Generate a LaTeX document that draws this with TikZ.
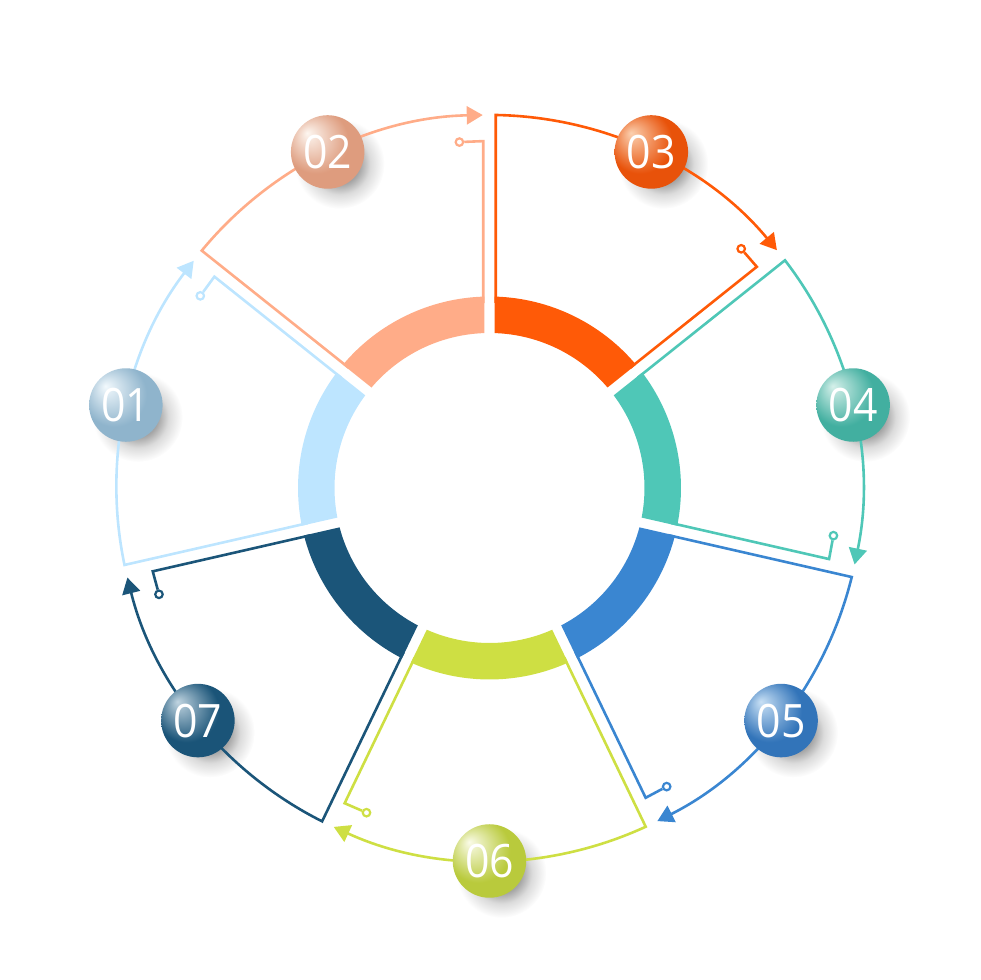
\documentclass[tikz,border=0pt]{standalone}
\usepackage{xcolor}
\usepackage{fontspec}
\setmainfont[FakeStretch=0.93]{Open Sans}
\usetikzlibrary{arrows.meta, positioning}

\definecolor{seg1}{HTML}{BDE5FF}
\definecolor{seg2}{HTML}{FFAC88}
\definecolor{seg3}{HTML}{FF5A07}
\definecolor{seg4}{HTML}{4FC7B7}
\definecolor{seg5}{HTML}{3A86D1}
\definecolor{seg6}{HTML}{CEDF43}
\definecolor{seg7}{HTML}{1B5579}
\definecolor{ball1}{HTML}{8FB4CC}
\definecolor{ball2}{HTML}{DE9C7E}
\definecolor{ball3}{HTML}{E8520A}
\definecolor{ball4}{HTML}{42AFA0}
\definecolor{ball5}{HTML}{3274B9}
\definecolor{ball6}{HTML}{B9CA3C}
\definecolor{ball7}{HTML}{1A5478}

\pgfdeclareradialshading[ballmain,ballglow]{ballshade}{\pgfpoint{-14bp}{13bp}}{
  color(0bp)=(ballglow); color(22bp)=(ballmain); color(50bp)=(ballmain)}
\pgfdeclareradialshading{shadowshade}{\pgfpointorigin}{
  color(0bp)=(black!38); color(11bp)=(black!36); color(17bp)=(black!14); color(25bp)=(white); color(50bp)=(white)}

\begin{document}
\begin{tikzpicture}[
    x=1pt, y=1pt,
    segline/.style={line width=2.6pt, draw=#1, line join=miter},
    pin/.style={circle, draw=#1, fill=white, line width=2.2pt, minimum size=7.5pt, inner sep=0pt},
    ball/.style={circle, minimum size=73.5pt, inner sep=0pt, shading=ballshade, text=white,
        font=\fontsize{46}{46}\selectfont},
    shadow/.style={circle, minimum size=90pt, inner sep=0pt, shading=shadowshade}
]
\useasboundingbox (0,0) rectangle (980,980);
\coordinate (center) at (489.5,492);

% soft shadows under the balls
\foreach \n/\s in {1/-167.14, 2/141.43, 3/90, 4/38.57, 5/-12.86, 6/-64.29, 7/-115.71} {
    \pgfmathsetmacro{\m}{\s-25.714}
    \path (center) ++(\m:373) ++(12,-12) node[shadow] (shadow\n) {};
}

% segments: outline, arrow, pin and ring piece
\foreach \n/\s in {1/-167.14, 2/141.43, 3/90, 4/38.57, 5/-12.86, 6/-64.29, 7/-115.71} {
    \pgfmathsetmacro{\r}{\s-90}
    \begin{scope}[shift={(center)}, rotate=\r]
        \coordinate (start\n) at (6.2,185);
        \coordinate (corner\n) at (6.2,373);
        \coordinate (foot\n) at (140.7,120.2);
        \coordinate (elbow\n) at (267.3,221.2);
        \node[pin=seg\n] (pin\n) at (251.7,239.2) {};
        \draw[segline=seg\n, -{Triangle[length=16pt,width=18pt]}] (start\n) -- (corner\n)
            arc[start angle=89.05, end angle=39.6, radius=373];
        \draw[segline=seg\n] (foot\n) -- (elbow\n) -- (pin\n);
        \fill[seg\n] (88.5:191.5) arc[start angle=88.5, end angle=40.07, radius=191.5]
            -- (40.42:155) arc[start angle=40.42, end angle=88.15, radius=155] -- cycle;
    \end{scope}
}

% numbered balls
\foreach \n/\s/\t/\g in {1/-167.14/01/F2F9FD, 2/141.43/02/FDF6F0, 3/90/03/FBD0B0, 4/38.57/04/D5F0EA,
        5/-12.86/05/C8E0F5, 6/-64.29/06/FAFBE8, 7/-115.71/07/C0D4E0} {
    \pgfmathsetmacro{\m}{\s-25.714}
    \definecolor{ballglow}{HTML}{\g}
    \colorlet{ballmain}{ball\n}
    \path (center) ++(\m:373) node[ball] (ball\n) {\t};
}
\end{tikzpicture}
\end{document}
